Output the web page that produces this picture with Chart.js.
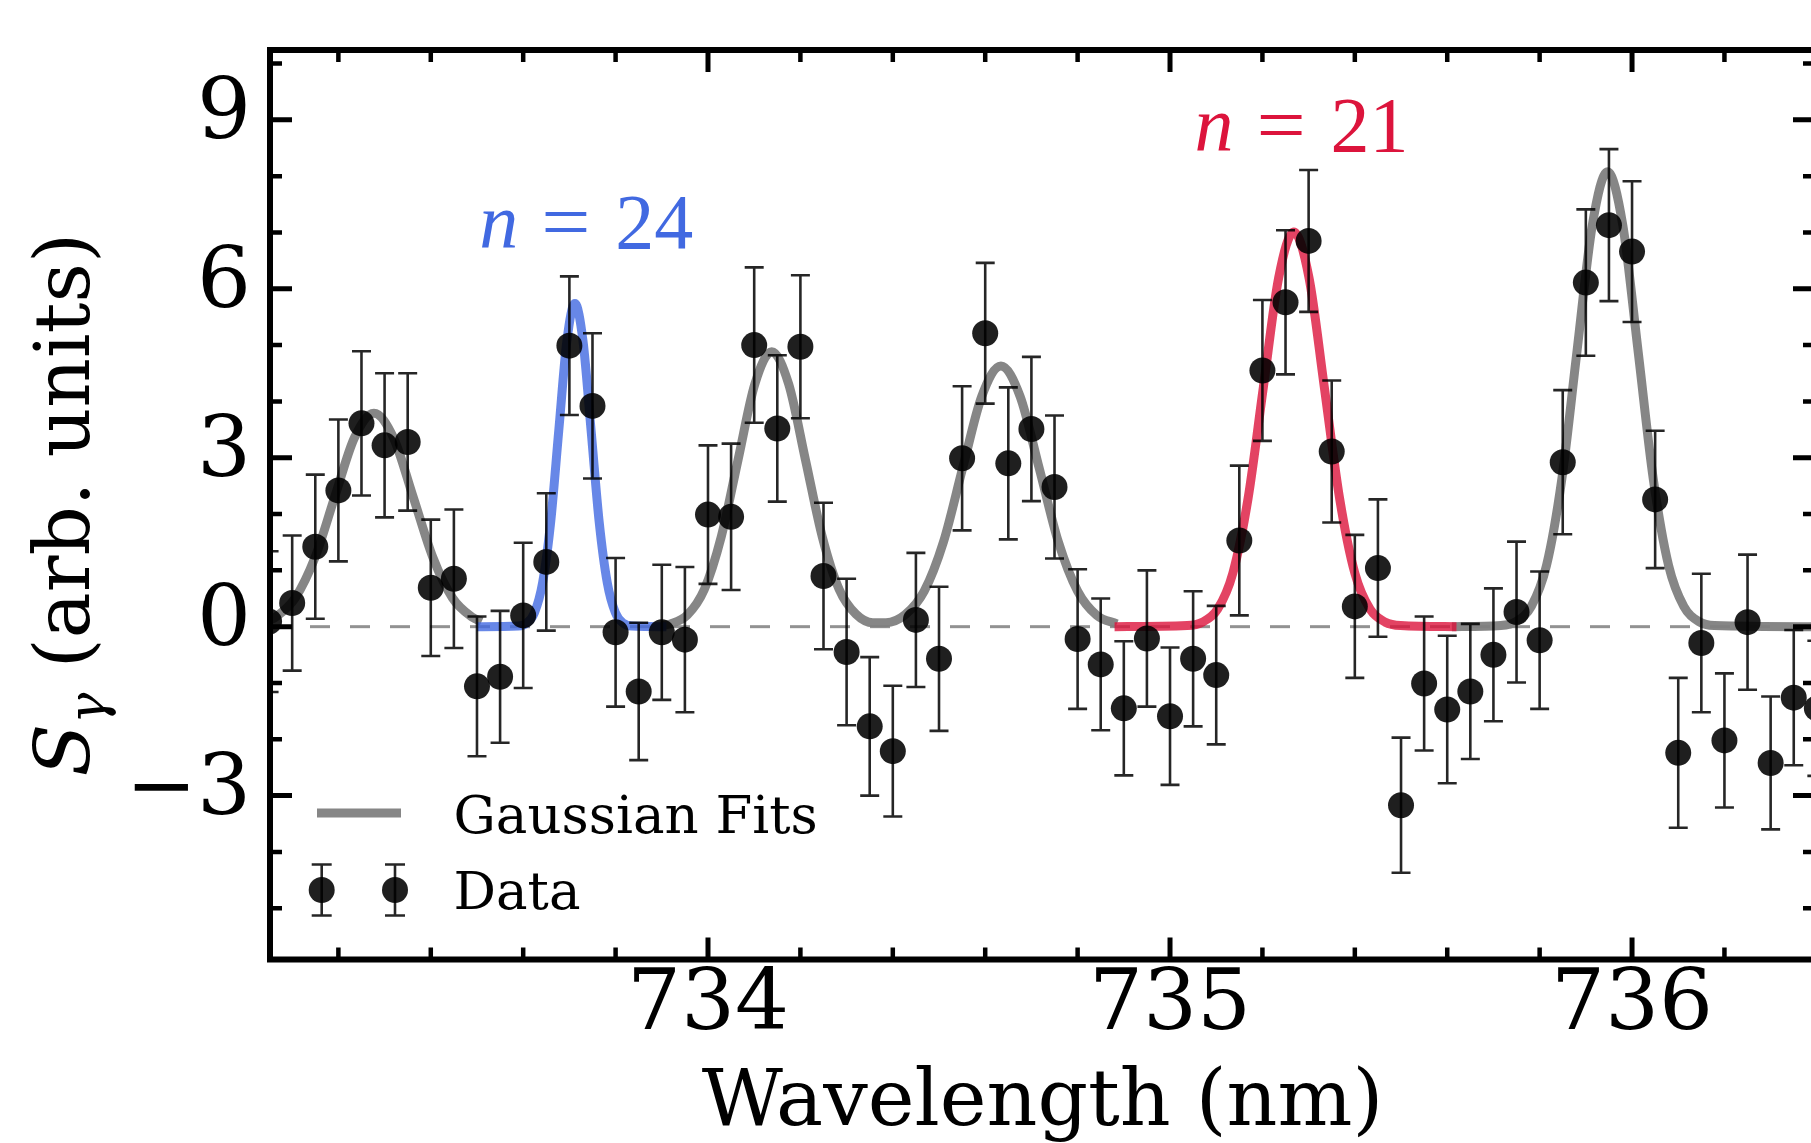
<!DOCTYPE html>
<html>
<head>
<meta charset="utf-8">
<script src="https://cdn.jsdelivr.net/npm/chart.js@4/dist/chart.umd.min.js"></script>
<style>
html,body{margin:0;padding:0;background:#fff;overflow:hidden;width:1811px;height:1143px;}
#wrap{position:absolute;left:0;top:0;width:1830px;height:1143px;}
canvas{display:block;}
</style>
</head>
<body>
<div id="wrap"><canvas id="c" width="1830" height="1143"></canvas></div>
<script>
// ---------------- data ----------------
const wavelength = [733.05,733.10,733.15,733.20,733.25,733.30,733.35,733.40,733.45,733.50,
  733.55,733.60,733.65,733.70,733.75,733.80,733.85,733.90,733.95,734.00,
  734.05,734.10,734.15,734.20,734.25,734.30,734.35,734.40,734.45,734.50,
  734.55,734.60,734.65,734.70,734.75,734.80,734.85,734.90,734.95,735.00,
  735.05,735.10,735.15,735.20,735.25,735.30,735.35,735.40,735.45,735.50,
  735.55,735.60,735.65,735.70,735.75,735.80,735.85,735.90,735.95,736.00,
  736.05,736.10,736.15,736.20,736.25,736.30,736.35,736.40];
const signal = [0.09,0.42,1.42,2.42,3.61,3.22,3.28,0.69,0.85,-1.06,
  -0.89,0.20,1.15,4.99,3.92,-0.10,-1.15,-0.10,-0.23,1.99,
  1.95,5.00,3.52,4.97,0.90,-0.45,-1.77,-2.21,0.12,-0.57,
  2.99,5.21,2.90,3.51,2.48,-0.22,-0.67,-1.45,-0.21,-1.59,
  -0.57,-0.86,1.53,4.55,5.76,6.85,3.11,0.36,1.04,-3.17,
  -1.01,-1.47,-1.15,-0.50,0.26,-0.24,2.92,6.11,7.13,6.66,
  2.26,-2.24,-0.29,-2.02,0.08,-2.42,-1.26,-1.45];
const signalErr = [1.25,1.20,1.28,1.26,1.28,1.28,1.22,1.21,1.23,1.24,
  1.17,1.29,1.22,1.23,1.29,1.32,1.22,1.20,1.29,1.23,
  1.30,1.38,1.30,1.27,1.30,1.30,1.23,1.16,1.19,1.28,
  1.28,1.25,1.35,1.28,1.27,1.24,1.17,1.19,1.21,1.22,
  1.20,1.23,1.33,1.25,1.28,1.26,1.26,1.27,1.22,1.20,
  1.19,1.31,1.20,1.18,1.25,1.22,1.28,1.30,1.35,1.25,
  1.22,1.33,1.23,1.19,1.20,1.18,1.20,1.20];

// Gaussian fit curves
const fitAX = [733.05,733.064,733.1065,733.1495,733.192,733.2345,733.277,733.3195,733.362,733.4045,733.447,733.4895,733.51];
const fitAY = [0.11,0.17,0.51,1.23,2.30,3.35,3.79,3.35,2.30,1.23,0.51,0.17,0.09];
const fit24X = [733.50,733.5895,733.607,733.6245,733.642,733.6595,733.677,733.6945,733.712,733.7295,733.747,733.7645,733.782,733.7995,733.817,733.8345,733.91];
const fit24Y = [0.00,0.01,0.06,0.25,0.78,1.86,3.48,5.07,5.74,5.07,3.48,1.86,0.78,0.25,0.06,0.01,0.00];
const fitBX = [733.90,733.919,733.9555,733.992,734.0285,734.065,734.1015,734.138,734.1745,734.211,734.2475,734.284,734.3205,734.357,734.385,734.4265,734.468,734.5095,734.551,734.5925,734.634,734.6755,734.717,734.7585,734.80,734.8415,734.885];
const fitBY = [0.02,0.05,0.21,0.66,1.59,2.96,4.31,4.88,4.31,2.96,1.59,0.66,0.22,0.07,0.07,0.21,0.63,1.50,2.81,4.09,4.63,4.09,2.81,1.50,0.63,0.20,0.05];
const fit21X = [734.88,735.037,735.07,735.103,735.136,735.169,735.202,735.235,735.268,735.301,735.334,735.367,735.40,735.433,735.466,735.499,735.62];
const fit21Y = [0.00,0.02,0.08,0.31,0.95,2.28,4.25,6.19,7.01,6.19,4.25,2.28,0.95,0.31,0.08,0.02,0.00];
const fitCX = [735.61,735.716,735.749,735.782,735.815,735.848,735.881,735.914,735.947,735.98,736.013,736.046,736.079,736.112,736.145,736.178,736.40];
const fitCY = [0.00,0.02,0.09,0.36,1.09,2.62,4.90,7.13,8.08,7.13,4.90,2.62,1.09,0.36,0.09,0.02,0.00];

// ticks and labels
const xMajorTicks = [734, 735, 736];
const xMinorTicks = [733.2,733.4,733.6,733.8,734.2,734.4,734.6,734.8,735.2,735.4,735.6,735.8,736.2];
const yMajorTicks = [-3, 0, 3, 6, 9];
const yMinorTicks = [-5,-4,-2,-1,1,2,4,5,7,8,10];
const xTitle = 'Wavelength (nm)';
const yTitleParts = ['S', '\u03B3', ' (arb. units)'];
const legendLabels = ['Gaussian Fits', 'Data'];
const peakLabels = ['24', '21'];
const peakLabelAt = [[733.505, 6.72], [735.053, 8.44]];
const baselineValue = 0;

// ---------------- styles ----------------
const GRAY = 'rgba(128,128,128,0.95)';
const BLUE = 'rgba(65,105,225,0.8)';
const RED = 'rgba(220,20,60,0.8)';
const SERIF = '"DejaVu Serif"';

function pts(xs, ys) { return xs.map((x, i) => ({x: x, y: ys[i]})); }
function fmt(v) { return v < 0 ? '\u2212' + Math.abs(v) : String(v); }
function fitSet(label, xs, ys, color) {
  return { label: label, data: pts(xs, ys), showLine: true, borderColor: color, borderWidth: 9,
    pointRadius: 0, pointHoverRadius: 0, pointHitRadius: 0, cubicInterpolationMode: 'monotone',
    borderCapStyle: 'butt', fill: false, clip: 0 };
}

const decor = {
  id: 'decor',
  beforeDatasetsDraw(chart) {
    const {ctx, chartArea: a, scales: {y}} = chart;
    ctx.save();
    ctx.beginPath(); ctx.rect(a.left, a.top, a.right - a.left, a.bottom - a.top); ctx.clip();
    ctx.strokeStyle = 'rgba(110,110,110,0.75)';
    ctx.lineWidth = 3; ctx.setLineDash([20, 20]);
    const y0 = y.getPixelForValue(baselineValue);
    ctx.beginPath(); ctx.moveTo(a.left, y0); ctx.lineTo(a.right, y0); ctx.stroke();
    ctx.restore();
  },
  beforeDatasetDraw(chart, args) {
    if (args.index !== 0) return;
    const {ctx, chartArea: a, scales: {x, y}} = chart;
    ctx.save();
    ctx.beginPath(); ctx.rect(a.left, a.top, a.right - a.left, a.bottom - a.top); ctx.clip();
    ctx.strokeStyle = 'rgba(0,0,0,0.85)';
    ctx.lineWidth = 2.6;
    ctx.lineCap = 'butt';
    for (let i = 0; i < wavelength.length; i++) {
      const px = x.getPixelForValue(wavelength[i]);
      const pt = y.getPixelForValue(signal[i] + signalErr[i]);
      const pb = y.getPixelForValue(signal[i] - signalErr[i]);
      ctx.beginPath();
      ctx.moveTo(px, pt); ctx.lineTo(px, pb);
      ctx.moveTo(px - 9.5, pt); ctx.lineTo(px + 9.5, pt);
      ctx.moveTo(px - 9.5, pb); ctx.lineTo(px + 9.5, pb);
      ctx.stroke();
    }
    ctx.restore();
  },
  afterDraw(chart) {
    const {ctx, chartArea: a, scales: {x, y}} = chart;
    ctx.save();
    // legend
    const lx = a.left, lb = a.bottom;
    ctx.strokeStyle = GRAY; ctx.lineWidth = 9; ctx.lineCap = 'butt';
    ctx.beginPath(); ctx.moveTo(lx + 47, lb - 146.5); ctx.lineTo(lx + 131, lb - 146.5); ctx.stroke();
    const my = lb - 69.5;
    for (const mx of [lx + 51.7, lx + 125]) {
      ctx.strokeStyle = 'rgba(0,0,0,0.85)'; ctx.lineWidth = 2.6;
      ctx.beginPath();
      ctx.moveTo(mx, my - 25.5); ctx.lineTo(mx, my + 25.5);
      ctx.moveTo(mx - 10, my - 25.5); ctx.lineTo(mx + 10, my - 25.5);
      ctx.moveTo(mx - 10, my + 25.5); ctx.lineTo(mx + 10, my + 25.5);
      ctx.stroke();
      ctx.fillStyle = 'rgba(0,0,0,0.88)';
      ctx.beginPath(); ctx.arc(mx, my, 13, 0, Math.PI * 2); ctx.fill();
    }
    ctx.fillStyle = '#000';
    ctx.font = '53px ' + SERIF;
    ctx.textAlign = 'left'; ctx.textBaseline = 'alphabetic';
    ctx.fillText(legendLabels[0], lx + 183.5, lb - 126.8);
    ctx.fillText(legendLabels[1], lx + 183.5, lb - 50.2);

    // peak annotations
    const colors = ['rgb(65,105,225)', 'rgb(220,20,60)'];
    for (let k = 0; k < peakLabels.length; k++) {
      const px = x.getPixelForValue(peakLabelAt[k][0]);
      const py = y.getPixelForValue(peakLabelAt[k][1]);
      ctx.fillStyle = colors[k];
      ctx.font = 'italic 78px "Liberation Serif"';
      ctx.fillText('n', px, py);
      ctx.font = '78px "Liberation Serif"';
      ctx.save(); ctx.translate(px + 62, py); ctx.scale(1.12, 1); ctx.fillText('=', 0, 0); ctx.restore();
      ctx.fillText(peakLabels[k], px + 136, py);
    }

    // y title
    ctx.fillStyle = '#000';
    ctx.translate(89, (a.top + a.bottom) / 2);
    ctx.rotate(-Math.PI / 2);
    const fIt = 'italic 77px ' + SERIF, fSub = 'italic 52px ' + SERIF, fMain = '77px ' + SERIF;
    ctx.font = fIt; const w0 = ctx.measureText(yTitleParts[0]).width;
    ctx.font = fSub; const w1 = ctx.measureText(yTitleParts[1]).width;
    ctx.font = fMain; const w2 = ctx.measureText(yTitleParts[2]).width;
    let u = -(w0 + w1 + w2) / 2;
    ctx.font = fIt; ctx.fillText(yTitleParts[0], u, 0); u += w0;
    ctx.font = fSub; ctx.fillText(yTitleParts[1], u, 16); u += w1;
    ctx.font = fMain; ctx.fillText(yTitleParts[2], u, 0);
    ctx.restore();

    // spines
    ctx.save();
    ctx.strokeStyle = '#000'; ctx.lineWidth = 6; ctx.lineJoin = 'miter';
    ctx.strokeRect(a.left, a.top, a.right - a.left, a.bottom - a.top);
    // ticks (pointing inwards, all four sides)
    ctx.lineCap = 'butt';
    function xt(vals, len, lw) {
      ctx.lineWidth = lw; ctx.beginPath();
      for (const v of vals) {
        const p = x.getPixelForValue(v);
        ctx.moveTo(p, a.bottom); ctx.lineTo(p, a.bottom - len);
        ctx.moveTo(p, a.top); ctx.lineTo(p, a.top + len);
      }
      ctx.stroke();
    }
    function yt(vals, len, lw) {
      ctx.lineWidth = lw; ctx.beginPath();
      for (const v of vals) {
        const p = y.getPixelForValue(v);
        ctx.moveTo(a.left, p); ctx.lineTo(a.left + len, p);
        ctx.moveTo(a.right, p); ctx.lineTo(a.right - len, p);
      }
      ctx.stroke();
    }
    xt(xMajorTicks, 22, 5); xt(xMinorTicks, 12, 4.5);
    yt(yMajorTicks, 22, 5); yt(yMinorTicks, 12, 4.5);
    ctx.restore();
  }
};

new Chart(document.getElementById('c'), {
  type: 'scatter',
  data: {
    datasets: [
      { label: legendLabels[1], data: pts(wavelength, signal), pointRadius: 13, pointHoverRadius: 13,
        pointBackgroundColor: 'rgba(0,0,0,0.88)', pointBorderWidth: 0, showLine: false, clip: 0 },
      fitSet('n = 24', fit24X, fit24Y, BLUE),
      fitSet('n = 21', fit21X, fit21Y, RED),
      fitSet(legendLabels[0], fitAX, fitAY, GRAY),
      fitSet(legendLabels[0], fitBX, fitBY, GRAY),
      fitSet(legendLabels[0], fitCX, fitCY, GRAY)
    ]
  },
  options: {
    responsive: false,
    devicePixelRatio: 1,
    animation: false,
    events: [],
    layout: { padding: { top: 50, right: 15, left: 0, bottom: 0 } },
    plugins: { legend: { display: false }, tooltip: { enabled: false }, title: { display: false } },
    scales: {
      x: {
        type: 'linear', position: 'bottom', min: 733.052, max: 736.396,
        afterFit: (s) => { s.height = 183.5; s.paddingLeft = 0; s.paddingRight = 0; },
        afterBuildTicks: (s) => { s.ticks = xMajorTicks.map(v => ({value: v})); },
        grid: { display: false, drawTicks: false },
        border: { display: false },
        ticks: { color: '#000', font: { family: 'DejaVu Serif', size: 85, lineHeight: 1 },
          padding: 5, maxRotation: 0, minRotation: 0, autoSkip: false, callback: (v) => fmt(v) },
        title: { display: true, text: xTitle, color: '#000',
          font: { family: 'DejaVu Serif', size: 79, lineHeight: 1 }, padding: { top: 0, bottom: -1 } }
      },
      y: {
        type: 'linear', position: 'left', min: -5.91, max: 10.24,
        afterFit: (s) => { s.width = 270; s.paddingTop = 0; s.paddingBottom = 0; },
        afterBuildTicks: (s) => { s.ticks = yMajorTicks.map(v => ({value: v})); },
        grid: { display: false, drawTicks: false },
        border: { display: false },
        ticks: { color: '#000', font: { family: 'DejaVu Serif', size: 85, lineHeight: 1 },
          padding: 19, labelOffset: -4, autoSkip: false, callback: (v) => fmt(v) }
      }
    }
  },
  plugins: [decor]
});
</script>
</body>
</html>
